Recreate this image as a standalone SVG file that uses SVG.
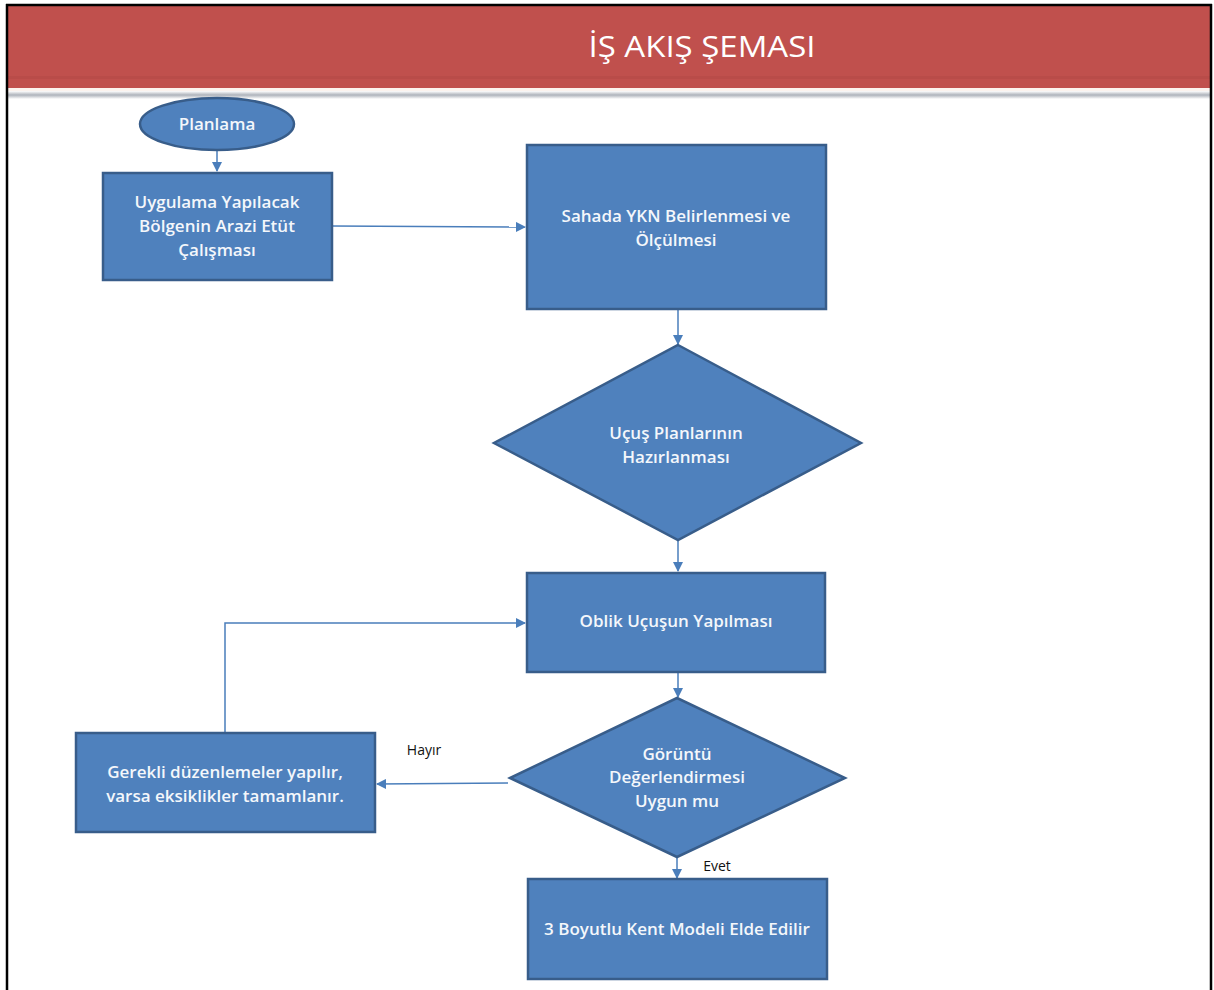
<svg xmlns="http://www.w3.org/2000/svg" width="1214" height="990" viewBox="0 0 1214 990">
<defs>
<style>
.box{fill:#4F81BD;stroke:#385D8A;stroke-width:2.5}
.lbl{font-family:"Open Sans","Noto Sans",sans-serif;font-size:17px;font-weight:600;fill:#F4F7FB;text-anchor:middle}
.edge{fill:none;stroke:#4A7EBB;stroke-width:1.5}
.note{font-family:"Open Sans","Noto Sans",sans-serif;font-size:14px;fill:#111;text-anchor:middle}
</style>
<linearGradient id="grey" x1="0" y1="0" x2="0" y2="1">
<stop offset="0" stop-color="#FFFFFF"/>
<stop offset="0.5" stop-color="#AEB3BB"/>
<stop offset="1" stop-color="#FFFFFF"/>
</linearGradient>
<marker id="ah" markerWidth="10" markerHeight="10" refX="9" refY="5" orient="auto" markerUnits="userSpaceOnUse">
<path d="M0,0 L10,5 L0,10 Z" fill="#4A7EBB"/>
</marker>
</defs>
<rect x="0" y="0" width="1214" height="990" fill="#FFFFFF"/>
<g id="banner">
<rect x="7" y="5" width="1204" height="83" fill="#C0504D"/>
<rect x="7" y="76" width="1204" height="3" fill="#B14845" opacity="0.5"/>
<rect x="7" y="88" width="1204" height="3" fill="#FCF3EE"/>
<rect x="7" y="91" width="1204" height="8" fill="url(#grey)"/>
<text x="702" y="57" font-family="'Open Sans','Noto Sans',sans-serif" font-size="30" fill="#FFFFFF" text-anchor="middle" textLength="227" lengthAdjust="spacingAndGlyphs">İŞ AKIŞ ŞEMASI</text>
</g>
<g id="frame">
<line x1="7" y1="4" x2="7" y2="990" stroke="#000" stroke-width="2.5"/>
<line x1="6" y1="5" x2="1212" y2="5" stroke="#000" stroke-width="2.5"/>
<line x1="1211" y1="4" x2="1211" y2="990" stroke="#000" stroke-width="2.5"/>
</g>
<g id="connectors">
<line class="edge" x1="217" y1="150" x2="217" y2="171" marker-end="url(#ah)"/>
<line class="edge" x1="332" y1="226" x2="525" y2="227" marker-end="url(#ah)"/>
<line class="edge" x1="678" y1="310" x2="678" y2="344" marker-end="url(#ah)"/>
<line class="edge" x1="678" y1="541" x2="678" y2="571" marker-end="url(#ah)"/>
<line class="edge" x1="678" y1="673" x2="678" y2="697" marker-end="url(#ah)"/>
<line class="edge" x1="677" y1="857" x2="677" y2="878" marker-end="url(#ah)"/>
<line class="edge" x1="508" y1="783" x2="377" y2="784" marker-end="url(#ah)"/>
<polyline class="edge" points="225,733 225,623 525,623" marker-end="url(#ah)"/>
<text class="note" x="424" y="755">Hayır</text>
<text class="note" x="717" y="871">Evet</text>
</g>
<g id="n-planlama">
<ellipse class="box" cx="217" cy="124" rx="77" ry="26"/>
<text class="lbl" x="217" y="130">Planlama</text>
</g>
<g id="n-etut">
<rect class="box" x="103" y="173" width="229" height="107"/>
<text class="lbl" x="217" y="208">Uygulama Yapılacak</text>
<text class="lbl" x="217" y="232">Bölgenin Arazi Etüt</text>
<text class="lbl" x="217" y="256">Çalışması</text>
</g>
<g id="n-ykn">
<rect class="box" x="527" y="145" width="299" height="164"/>
<text class="lbl" x="676" y="222">Sahada YKN Belirlenmesi ve</text>
<text class="lbl" x="676" y="246">Ölçülmesi</text>
</g>
<g id="n-ucus">
<polygon class="box" points="678,345 861,443 678,540 494,443"/>
<text class="lbl" x="676" y="439">Uçuş Planlarının</text>
<text class="lbl" x="676" y="463">Hazırlanması</text>
</g>
<g id="n-oblik">
<rect class="box" x="527" y="573" width="298" height="99"/>
<text class="lbl" x="676" y="627">Oblik Uçuşun Yapılması</text>
</g>
<g id="n-goruntu">
<polygon class="box" points="677,698 845,778 677,857 510,778"/>
<text class="lbl" x="677" y="760">Görüntü</text>
<text class="lbl" x="677" y="783">Değerlendirmesi</text>
<text class="lbl" x="677" y="807">Uygun mu</text>
</g>
<g id="n-duzen">
<rect class="box" x="76" y="733" width="299" height="99"/>
<text class="lbl" x="225" y="778">Gerekli düzenlemeler yapılır,</text>
<text class="lbl" x="225" y="802">varsa eksiklikler tamamlanır.</text>
</g>
<g id="n-model">
<rect class="box" x="528" y="879" width="299" height="100"/>
<text class="lbl" x="677" y="935">3 Boyutlu Kent Modeli Elde Edilir</text>
</g>
</svg>
